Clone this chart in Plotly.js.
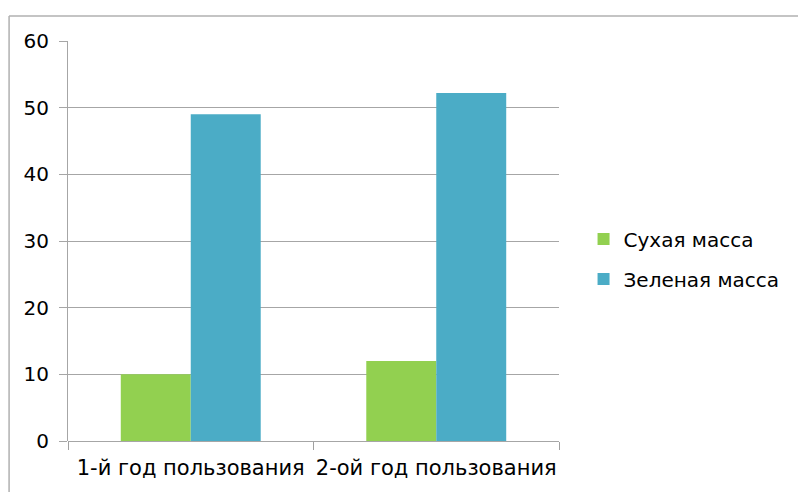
<!DOCTYPE html>
<html>
<head>
<meta charset="utf-8">
<script src="https://cdn.plot.ly/plotly-3.0.1.min.js"></script>
<style>
html,body{margin:0;padding:0;background:#fff;}
#chart{width:798px;height:492px;}
</style>
</head>
<body>
<div id="chart"></div>
<script>
const categories = ["1-й год пользования", "2-ой год пользования"];
const seriesNames = ["Сухая масса", "Зеленая масса"];
const dryMass = [10, 12];
const greenMass = [49, 52.2];
const yTicks = [0, 10, 20, 30, 40, 50, 60];

const FONT = "DejaVu Sans, sans-serif";

const traces = [
  {type: "bar", name: seriesNames[0], x: categories, y: dryMass,
   marker: {color: "#92d050"}, legendgroup: "a", hoverinfo: "skip"},
  {type: "bar", name: seriesNames[1], x: categories, y: greenMass,
   marker: {color: "#4bacc6"}, legendgroup: "b", hoverinfo: "skip"}
];

const layout = {
  width: 798, height: 492,
  margin: {l: 68, r: 239, t: 41, b: 51},
  paper_bgcolor: "#ffffff", plot_bgcolor: "#ffffff",
  font: {family: FONT, color: "#000000", size: 20},
  barmode: "group",
  bargap: 0.43, bargroupgap: 0,
  showlegend: true,
  legend: {
    x: 1.05, y: 0.455, xanchor: "left", yanchor: "middle",
    font: {family: FONT, size: 20, color: "#000"},
    traceorder: "grouped", tracegroupgap: 11,
    itemwidth: 30, bgcolor: "rgba(0,0,0,0)"
  },
  xaxis: {
    type: "category",
    showgrid: false, zeroline: false,
    showline: false, tickangle: 0,
    ticks: "outside", tickson: "boundaries", ticklen: 8, tickcolor: "#a0a0a0", tickwidth: 1,
    tickfont: {family: FONT, size: 21, color: "#000"},
    ticklabelstandoff: 12
  },
  yaxis: {
    range: [0, 60], tickvals: yTicks, ticktext: yTicks.map(String),
    showgrid: true, gridcolor: "#a6a6a6", gridwidth: 1,
    zeroline: true, zerolinecolor: "#a6a6a6", zerolinewidth: 1,
    showline: true, linecolor: "#a6a6a6", linewidth: 1,
    ticks: "outside", ticklen: 8, tickcolor: "#a6a6a6", tickwidth: 1,
    tickfont: {family: FONT, size: 20, color: "#000"},
    ticklabelstandoff: 6
  },
  shapes: [
    {type: "line", xref: "paper", yref: "paper", x0: -0.12, x1: 1.7, y0: 1.0625, y1: 1.0625,
     line: {color: "#b0b0b0", width: 1.5}},
    {type: "line", xref: "paper", yref: "paper", x0: -0.12, x1: -0.12, y0: 1.0625, y1: -0.2,
     line: {color: "#b0b0b0", width: 1.5}}
  ]
};

Plotly.newPlot("chart", traces, layout, {displayModeBar: false, staticPlot: true});
</script>
</body>
</html>
